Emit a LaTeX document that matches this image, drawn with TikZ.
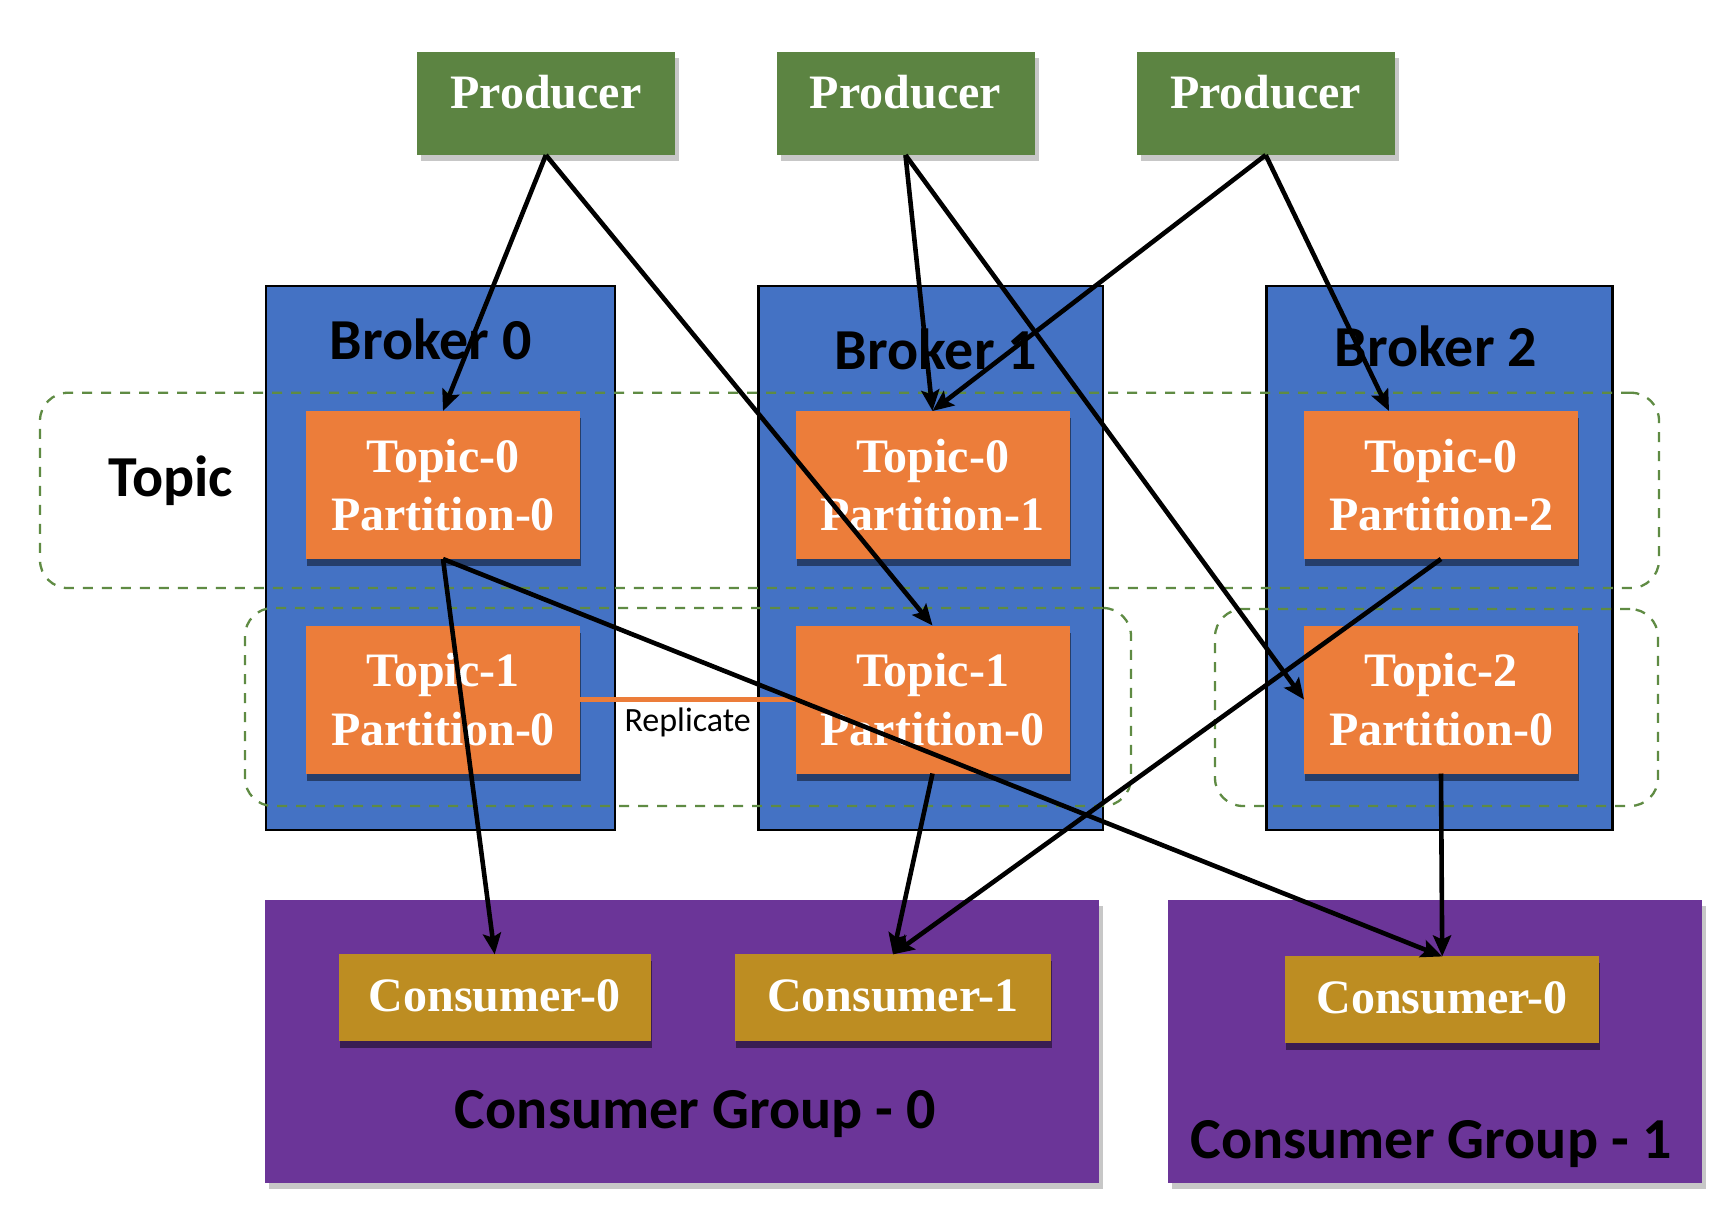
\documentclass[tikz,border=0pt]{standalone}
\usepackage{fontspec}
\usetikzlibrary{arrows.meta,shadows}
\newfontfamily\tnrfont{Liberation Serif}
\newfontfamily\calfont{Carlito}
\definecolor{prodgreen}{RGB}{92,132,66}
\definecolor{brokerblue}{RGB}{68,114,196}
\definecolor{partorange}{RGB}{236,125,58}
\definecolor{grouppurple}{RGB}{107,53,152}
\definecolor{consgold}{RGB}{189,141,34}
\definecolor{dashgreen}{RGB}{95,139,67}
\begin{document}
\begin{tikzpicture}[x=1pt,y=-1pt,
  box/.style={rectangle, inner sep=0pt, outer sep=0pt, align=center},
  serifbold/.style={font=\tnrfont\bfseries\fontsize{48}{58.5}\selectfont, text=white},
  lightshadow/.style={drop shadow={shadow xshift=4pt, shadow yshift=-6pt, fill=black!22, opacity=1}},
  darkshadow/.style={drop shadow={shadow xshift=1pt, shadow yshift=-7pt, fill=black, opacity=.45}},
  producer/.style={box, serifbold, fill=prodgreen, minimum width=258pt, minimum height=103.3pt,
    text height=33pt, text depth=23pt, lightshadow},
  broker/.style={box, fill=brokerblue, draw=black, line width=2.5pt, minimum height=544pt},
  area/.style={box, draw=dashgreen, line width=2.3pt, dash pattern=on 10pt off 9pt, rounded corners=28pt},
  partition/.style={box, serifbold, fill=partorange, minimum width=274pt, minimum height=148pt, darkshadow},
  group/.style={box, fill=grouppurple, minimum height=283pt, lightshadow},
  consumer/.style={box, serifbold, fill=consgold, minimum height=86.7pt, text height=33pt, text depth=5pt, darkshadow},
  sanslabel/.style={font=\calfont\bfseries\fontsize{58}{70}\selectfont, anchor=base, inner sep=0pt, text=black},
  smalllabel/.style={font=\calfont\fontsize{34}{40}\selectfont, anchor=base, inner sep=0pt, text=black},
  flow/.style={draw=black, line width=4.6pt, -{Stealth[length=21pt,width=18pt,inset=4pt]}},
  replicate/.style={draw=partorange, line width=5pt}
]
\useasboundingbox (0,0) rectangle (1729,1218);
\fill[white] (0,0) rectangle (1729,1218);

% producers
\node[producer] (p0) at (545.9,103.4) {Producer};
\node[producer] (p1) at (905.5,103.4) {Producer};
\node[producer] (p2) at (1265.7,103.4) {Producer};

% brokers
\node[broker, minimum width=349.3pt] (b0) at (440.4,558) {};
\node[broker, minimum width=344.7pt] (b1) at (930.7,558) {};
\node[broker, minimum width=346pt] (b2) at (1439.3,558) {};

% topic areas
\node[area, minimum width=1619pt, minimum height=195.3pt] (topicarea) at (849.5,490.4) {};
\node[area, minimum width=886pt, minimum height=198pt] (topiconearea) at (688,707) {};
\node[area, minimum width=443pt, minimum height=197pt] (topictwoarea) at (1436.5,707.5) {};

% partitions
\node[partition] (a00) at (443,485) {Topic-0\\Partition-0};
\node[partition] (a01) at (932.5,485) {Topic-0\\Partition-1};
\node[partition] (a02) at (1441,485) {Topic-0\\Partition-2};
\node[partition] (a10) at (443,699.5) {Topic-1\\Partition-0};
\node[partition] (a11) at (932.5,699.5) {Topic-1\\Partition-0};
\node[partition] (a20) at (1441,699.5) {Topic-2\\Partition-0};

\draw[replicate] (a10.east) -- (a11.west);
\node[smalllabel] (replabel) at (687.7,731.7) {Replicate};

% consumer groups
\node[group, minimum width=834.3pt] (g0) at (682.2,1041.5) {};
\node[group, minimum width=534.3pt] (g1) at (1434.9,1041.5) {};

% consumers
\node[consumer, minimum width=312pt] (c00) at (494.7,997.7) {Consumer-0};
\node[consumer, minimum width=315.4pt] (c01) at (893,997.7) {Consumer-1};
\node[consumer, minimum width=314.4pt] (c10) at (1442.2,999.8) {Consumer-0};

% labels
\node[sanslabel] (lb0) at (431,359) {Broker 0};
\node[sanslabel] (lb1) at (936,369) {Broker 1};
\node[sanslabel] (lb2) at (1436,366.7) {Broker 2};
\node[sanslabel] (ltopic) at (170.7,496.7) {Topic};
\node[sanslabel] (lg0) at (695.5,1128.3) {Consumer Group - 0};
\node[sanslabel] (lg1) at (1431,1158) {Consumer Group - 1};

% connectors
\draw[flow] (p0.south) -- (a00.north);
\draw[flow] (p0.south) -- (a11.north);
\draw[flow] (p1.south) -- (a01.north);
\draw[flow] (p1.south) -- (a20.west);
\draw[flow] (p2.south) -- (a01.north);
\draw[flow] (p2.south) -- ([xshift=-52pt]a02.north);
\draw[flow] (a00.south) -- (c00.north);
\draw[flow] (a00.south) -- (c10.north);
\draw[flow] (a11.south) -- (c01.north);
\draw[flow] (a02.south) -- (c01.north);
\draw[flow] (a20.south) -- (c10.north);
\end{tikzpicture}
\end{document}
